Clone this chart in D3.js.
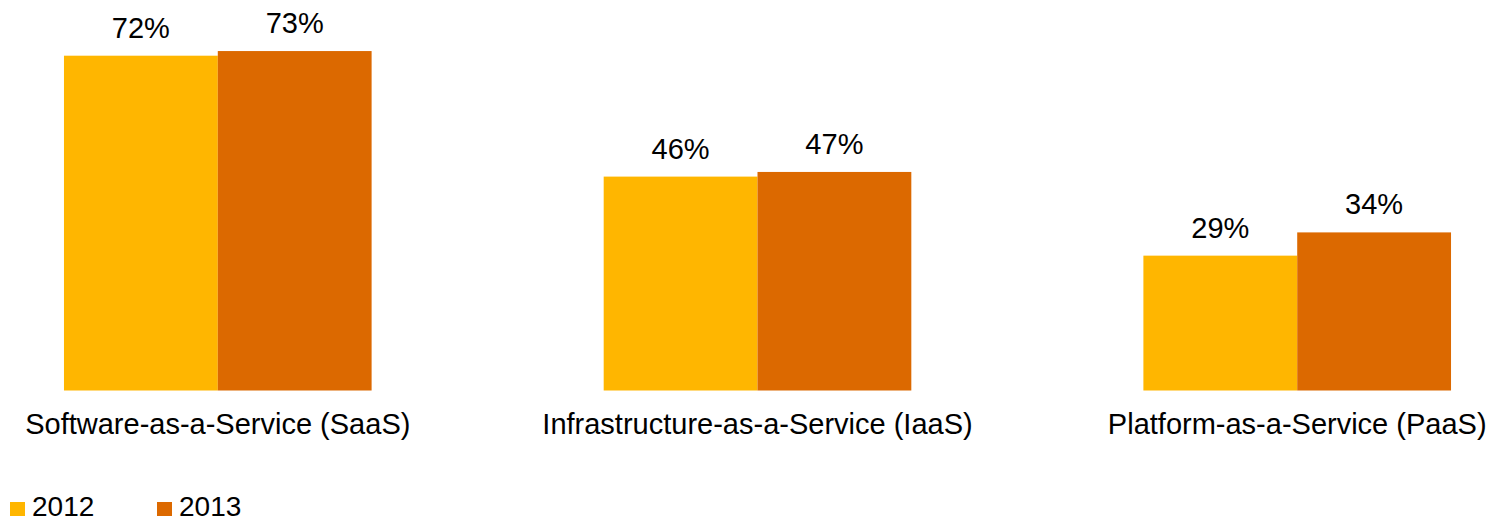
<!DOCTYPE html>
<html>
<head>
<meta charset="utf-8">
<script src="https://cdn.jsdelivr.net/npm/d3@7"></script>
<style>
  html, body { margin: 0; padding: 0; background: #fff; }
  svg { display: block; font-family: "Liberation Sans", Arial, sans-serif; }
</style>
</head>
<body>
<svg id="chart" width="1490" height="523"></svg>
<script>
// Cloud service adoption by model, 2012 vs 2013 (percent)
const categories = ["Software-as-a-Service (SaaS)", "Infrastructure-as-a-Service (IaaS)", "Platform-as-a-Service (PaaS)"];
const seriesNames = ["2012", "2013"];
const values2012 = [72, 46, 29];
const values2013 = [73, 47, 34];
const seriesColors = ["#FFB600", "#DC6900"];

const svg = d3.select("#chart");

const x0 = d3.scaleBand()
  .domain(categories)
  .range([10, 1505])
  .paddingInner(0.43)
  .paddingOuter(0.1);

const x1 = d3.scaleBand()
  .domain(seriesNames)
  .range([0, x0.bandwidth()])
  .padding(0);

const y = d3.scaleLinear()
  .domain([0, 80])
  .range([390.5, 18.5]);

const color = d3.scaleOrdinal().domain(seriesNames).range(seriesColors);

const rows = categories.map((c, i) => ({
  category: c,
  values: [
    { series: "2012", value: values2012[i] },
    { series: "2013", value: values2013[i] }
  ]
}));

const groups = svg.selectAll("g.group")
  .data(rows)
  .join("g")
  .attr("class", "group")
  .attr("transform", d => `translate(${x0(d.category)},0)`);

groups.selectAll("rect")
  .data(d => d.values)
  .join("rect")
  .attr("x", d => x1(d.series))
  .attr("width", x1.bandwidth())
  .attr("y", d => y(d.value))
  .attr("height", d => y(0) - y(d.value))
  .attr("fill", d => color(d.series));

groups.selectAll("text.value")
  .data(d => d.values)
  .join("text")
  .attr("class", "value")
  .attr("x", d => x1(d.series) + x1.bandwidth() / 2)
  .attr("y", d => y(d.value) - 18)
  .attr("text-anchor", "middle")
  .attr("font-size", 29)
  .attr("fill", "#000")
  .text(d => d.value + "%");

// Category axis labels beneath the bars
const xAxis = d3.axisBottom(x0).tickSize(0).tickPadding(0);
const axisG = svg.append("g")
  .attr("transform", `translate(0,${y(0)})`)
  .call(xAxis);
axisG.select(".domain").remove();
axisG.selectAll("text")
  .attr("font-size", 29)
  .attr("font-family", "Liberation Sans, Arial, sans-serif")
  .attr("fill", "#000")
  .attr("dy", null)
  .attr("y", 43);

// Legend
const legend = svg.append("g").attr("transform", "translate(10,502)");
const legendX = [0, 147];
const items = legend.selectAll("g")
  .data(seriesNames)
  .join("g")
  .attr("transform", (d, i) => `translate(${legendX[i]},0)`);
items.append("rect")
  .attr("width", 15)
  .attr("height", 14)
  .attr("fill", d => color(d));
items.append("text")
  .attr("x", 22)
  .attr("y", 14)
  .attr("font-size", 28)
  .attr("fill", "#000")
  .text(d => d);
</script>
</body>
</html>
